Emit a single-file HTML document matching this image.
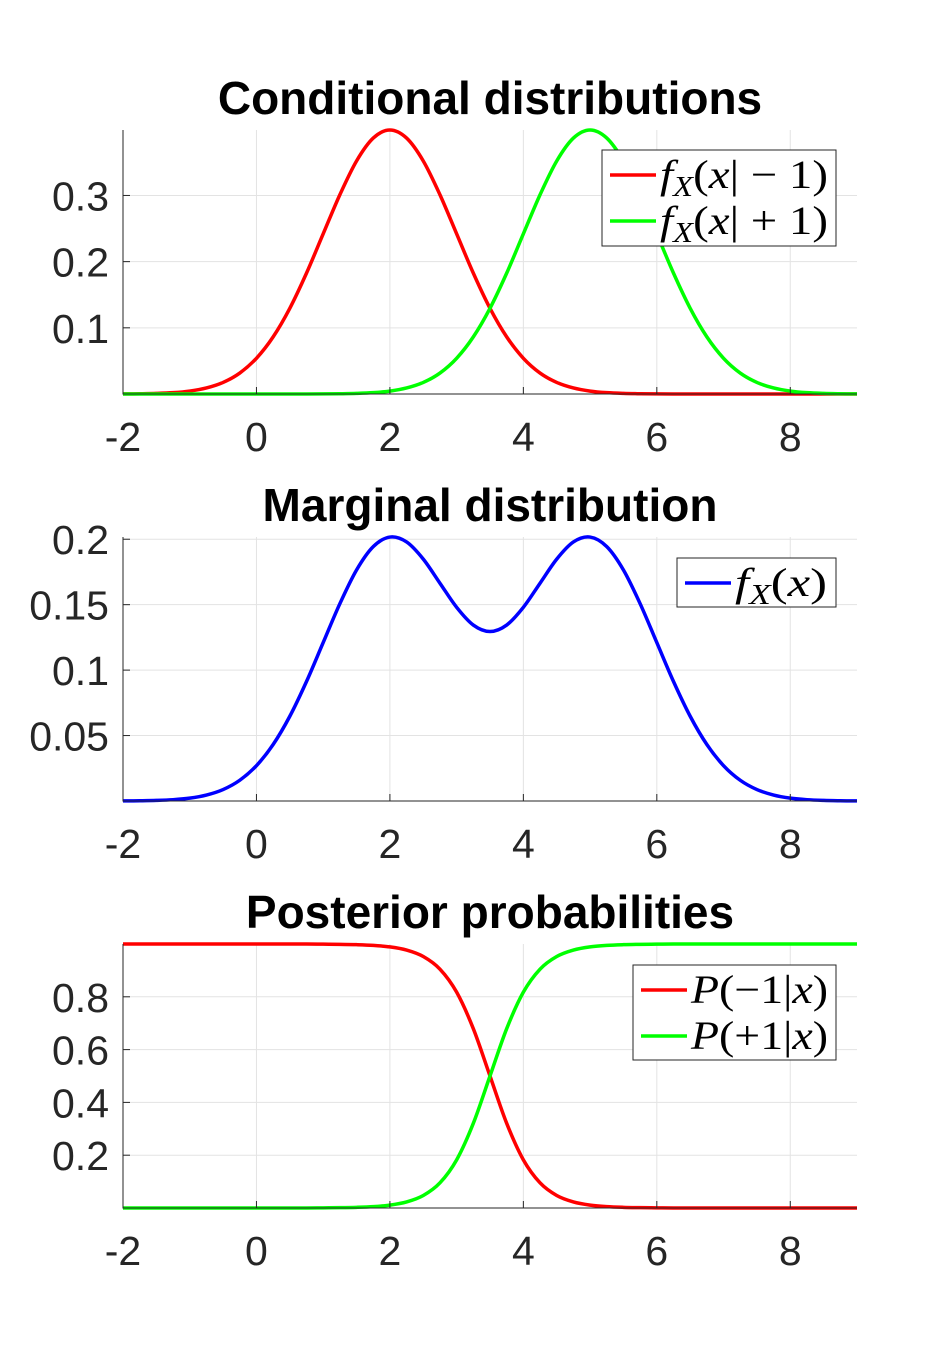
<!DOCTYPE html>
<html><head><meta charset="utf-8"><style>
body{margin:0;background:#fff}
svg text{font-family:"Liberation Sans",sans-serif;fill:#262626}
.tl{font-size:41px}
.tt{font-size:46px;font-weight:bold;fill:#000}
.lg{font-family:"Liberation Serif",serif;font-size:40px;fill:#000}
</style></head><body>
<svg id="fig" width="947" height="1356" viewBox="0 0 947 1356" xmlns="http://www.w3.org/2000/svg"></svg>
<script>
const xs=[-2,-1.75,-1.5,-1.25,-1,-0.75,-0.5,-0.25,0,0.25,0.5,0.75,1,1.25,1.5,1.75,2,2.25,2.5,2.75,3,3.25,3.5,3.75,4,4.25,4.5,4.75,5,5.25,5.5,5.75,6,6.25,6.5,6.75,7,7.25,7.5,7.75,8,8.25,8.5,8.75,9];
const condNeg=[0.0001,0.0004,0.0009,0.0020,0.0044,0.0091,0.0175,0.0317,0.0540,0.0863,0.1295,0.1826,0.2420,0.3011,0.3521,0.3867,0.3989,0.3867,0.3521,0.3011,0.2420,0.1826,0.1295,0.0863,0.0540,0.0317,0.0175,0.0091,0.0044,0.0020,0.0009,0.0004,0.0001,0,0,0,0,0,0,0,0,0,0,0,0];
const condPos=[0,0,0,0,0,0,0,0,0,0,0,0,0.0001,0.0004,0.0009,0.0020,0.0044,0.0091,0.0175,0.0317,0.0540,0.0863,0.1295,0.1826,0.2420,0.3011,0.3521,0.3867,0.3989,0.3867,0.3521,0.3011,0.2420,0.1826,0.1295,0.0863,0.0540,0.0317,0.0175,0.0091,0.0044,0.0020,0.0009,0.0004,0.0001];
const marginal=[0.00005,0.0002,0.00045,0.001,0.0022,0.00455,0.00875,0.01585,0.027,0.04315,0.06475,0.0913,0.12105,0.15075,0.1765,0.19435,0.20165,0.1979,0.1848,0.1664,0.148,0.13445,0.1295,0.13445,0.148,0.1664,0.1848,0.1979,0.20165,0.19435,0.1765,0.15075,0.12105,0.0913,0.06475,0.04315,0.027,0.01585,0.00875,0.00455,0.0022,0.001,0.00045,0.0002,0.00005];
const postNeg=[1,1,1,1,1,1,1,1,1,1,1,1,0.9994,0.9988,0.9975,0.9948,0.9890,0.9770,0.9526,0.9047,0.8176,0.6792,0.5,0.3208,0.1824,0.0953,0.0474,0.0230,0.0110,0.0052,0.0025,0.0012,0.0006,0,0,0,0,0,0,0,0,0,0,0,0];
const postPos=[0,0,0,0,0,0,0,0,0,0,0,0,0.0006,0.0012,0.0025,0.0052,0.0110,0.0230,0.0474,0.0953,0.1824,0.3208,0.5,0.6792,0.8176,0.9047,0.9526,0.9770,0.9890,0.9948,0.9975,0.9988,0.9994,1,1,1,1,1,1,1,1,1,1,1,1];
const xTicks=[-2,0,2,4,6,8];
const xTickLabels=["-2","0","2","4","6","8"];
const yTicks1=[0.1,0.2,0.3], yTickLabels1=["0.1","0.2","0.3"];
const yTicks2=[0.05,0.1,0.15,0.2], yTickLabels2=["0.05","0.1","0.15","0.2"];
const yTicks3=[0.2,0.4,0.6,0.8], yTickLabels3=["0.2","0.4","0.6","0.8"];

const NS="http://www.w3.org/2000/svg", svg=document.getElementById('fig');
function mk(tag,attrs,parent){const e=document.createElementNS(NS,tag);for(const k in attrs)e.setAttribute(k,attrs[k]);(parent||svg).appendChild(e);return e;}
const X0=123,X1=857,xmin=-2,xmax=9;
const sx=v=>X0+(v-xmin)/(xmax-xmin)*(X1-X0);
function path(ys,sy){const p=xs.map((x,i)=>[sx(x),sy(ys[i])]);let d='M'+p[0][0]+','+p[0][1];
 for(let i=0;i<p.length-1;i++){const a=p[i-1]||p[i],b=p[i],c=p[i+1],e=p[i+2]||c;
  d+=' C'+(b[0]+(c[0]-a[0])/6)+','+(b[1]+(c[1]-a[1])/6)+' '+(c[0]-(e[0]-b[0])/6)+','+(c[1]-(e[1]-b[1])/6)+' '+c[0]+','+c[1];}return d;}
function panel(name,top,bot,ymax,yT,yL,title,series,legend){
 const g=mk('g',{});
 
 
 const sy=v=>bot-v/ymax*(bot-top);
 xTicks.forEach(t=>{const l=mk('line',{x1:sx(t),x2:sx(t),y1:top,y2:bot,stroke:'#e3e3e3','stroke-width':1},g);
  });
 yT.forEach(t=>{const l=mk('line',{x1:X0,x2:X1,y1:sy(t),y2:sy(t),stroke:'#e3e3e3','stroke-width':1},g);
  });
 series.forEach(s=>{const p=mk('path',{d:path(s.ys,sy),fill:'none',stroke:s.c,'stroke-width':3.5,'stroke-linejoin':'round'},g);
  });
 const ax=mk('path',{d:`M${X0},${top} V${bot} H${X1}`,fill:'none',stroke:'#262626','stroke-width':1},g);
 
 xTicks.forEach((t,i)=>{mk('line',{x1:sx(t),x2:sx(t),y1:bot,y2:bot-7,stroke:'#262626'},g);
  const tx=mk('text',{x:sx(t),y:bot+57,'text-anchor':'middle',class:'tl'},g);tx.textContent=xTickLabels[i];
  });
 yT.forEach((t,i)=>{mk('line',{x1:X0,x2:X0+7,y1:sy(t),y2:sy(t),stroke:'#262626'},g);
  const tx=mk('text',{x:X0-14,y:sy(t)+15,'text-anchor':'end',class:'tl'},g);tx.textContent=yL[i];
  });
 const tt=mk('text',{x:490,y:top-16,'text-anchor':'middle',class:'tt'},g);tt.textContent=title;
 
 const L=legend;const lb=mk('rect',{x:L.x,y:L.y,width:L.w,height:L.h,fill:'#fff',stroke:'#262626','stroke-width':1},g);
 
 L.items.forEach((it,i)=>{const cy=L.y+25+i*46;
  mk('line',{x1:L.x+8,x2:L.x+54,y1:cy,y2:cy,stroke:it.c,'stroke-width':3.5},g);
  const tx=mk('text',{x:L.x+58,y:cy+13,class:'lg',textLength:L.tl,lengthAdjust:'spacingAndGlyphs'},g);tx.innerHTML=it.t;
  });
}
panel('conditional-panel',130,394,0.3989,yTicks1,yTickLabels1,'Conditional distributions',
 [{ys:condNeg,c:'#ff0000',n:'line-cond-neg'},{ys:condPos,c:'#00ff00',n:'line-cond-pos'}],
 {x:602,y:150,w:234,h:96,tl:168,items:[{c:'#ff0000',t:'<tspan font-style="italic">f</tspan><tspan font-style="italic" font-size="28" dy="8">X</tspan><tspan dy="-8">(</tspan><tspan font-style="italic">x</tspan>| − 1)'},{c:'#00ff00',t:'<tspan font-style="italic">f</tspan><tspan font-style="italic" font-size="28" dy="8">X</tspan><tspan dy="-8">(</tspan><tspan font-style="italic">x</tspan>| + 1)'}]});
panel('marginal-panel',537,801,0.2017,yTicks2,yTickLabels2,'Marginal distribution',
 [{ys:marginal,c:'#0000ff',n:'line-marginal'}],
 {x:677,y:558,w:159,h:49,tl:92,items:[{c:'#0000ff',t:'<tspan font-style="italic">f</tspan><tspan font-style="italic" font-size="28" dy="8">X</tspan><tspan dy="-8">(</tspan><tspan font-style="italic">x</tspan>)'}]});
panel('posterior-panel',944,1208,1,yTicks3,yTickLabels3,'Posterior probabilities',
 [{ys:postNeg,c:'#ff0000',n:'line-post-neg'},{ys:postPos,c:'#00ff00',n:'line-post-pos'}],
 {x:633,y:965,w:203,h:95,tl:137,items:[{c:'#ff0000',t:'<tspan font-style="italic">P</tspan>(−1|<tspan font-style="italic">x</tspan>)'},{c:'#00ff00',t:'<tspan font-style="italic">P</tspan>(+1|<tspan font-style="italic">x</tspan>)'}]});
</script>
</body></html>
